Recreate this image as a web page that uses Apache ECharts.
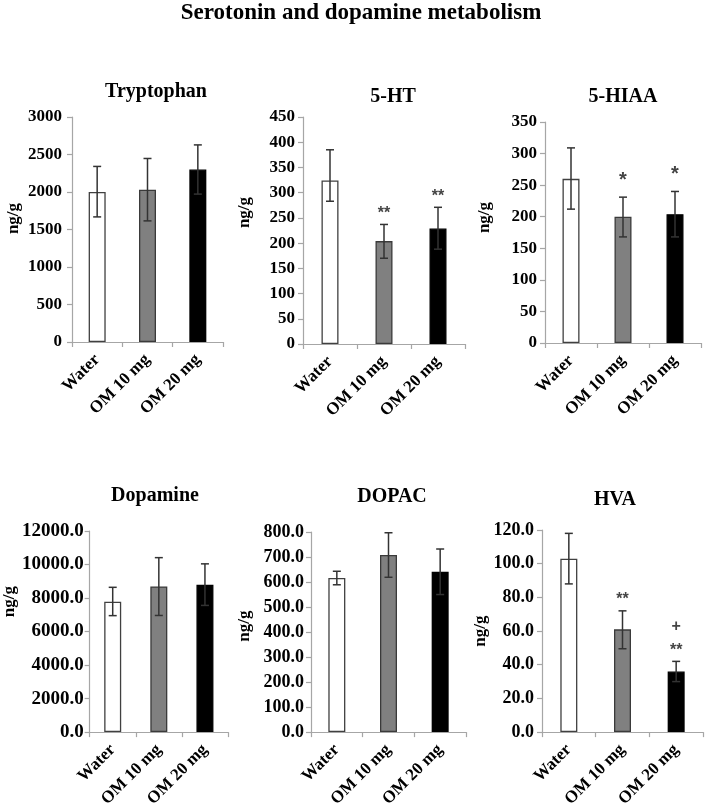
<!DOCTYPE html>
<html>
<head>
<meta charset="utf-8">
<script src="https://cdn.jsdelivr.net/npm/echarts@6/dist/echarts.min.js"></script>
<style>
html,body{margin:0;padding:0;background:#fff;}
#chart{width:708px;height:810px;}
</style>
</head>
<body>
<div id="chart"></div>
<script>
// ---------- data ----------
const mainTitle = 'Serotonin and dopamine metabolism';
const categories = ['Water', 'OM 10 mg', 'OM 20 mg'];
const panelNames = ['Tryptophan', '5-HT', '5-HIAA', 'Dopamine', 'DOPAC', 'HVA'];
const yAxisTitle = 'ng/g';

const tryptophanMean = [2000, 2030, 2300];
const tryptophanLow  = [1668, 1615, 1972];
const tryptophanHigh = [2341, 2447, 2628];
const tryptophanSig  = ['', '', ''];

const ht5Mean = [324, 204, 229];
const ht5Low  = [283, 170, 188];
const ht5High = [385, 237, 271];
const ht5Sig  = ['', '**', '**'];

const hiaaMean = [260, 200, 204];
const hiaaLow  = [212, 168, 168];
const hiaaHigh = [309, 231, 240];
const hiaaSig  = ['', '*', '*'];

const dopamineMean = [7780, 8690, 8800];
const dopamineLow  = [6950, 6960, 7560];
const dopamineHigh = [8640, 10410, 10040];
const dopamineSig  = ['', '', ''];

const dopacMean = [616, 708, 641];
const dopacLow  = [589, 619, 550];
const dopacHigh = [643, 797, 732];
const dopacSig  = ['', '', ''];

const hvaMean = [103, 61, 36];
const hvaLow  = [88, 49.5, 30];
const hvaHigh = [118, 72, 42];
const hvaSig  = ['', '**', '+\n**'];

const yMax      = [3000, 450, 350, 12000, 800, 120];
const yStep     = [500, 50, 50, 2000, 100, 20];
const yDecimals = [0, 0, 0, 1, 1, 1];

// ---------- layout / style ----------
const panels = [
  {mean: tryptophanMean, low: tryptophanLow, high: tryptophanHigh, sig: tryptophanSig},
  {mean: ht5Mean, low: ht5Low, high: ht5High, sig: ht5Sig},
  {mean: hiaaMean, low: hiaaLow, high: hiaaHigh, sig: hiaaSig},
  {mean: dopamineMean, low: dopamineLow, high: dopamineHigh, sig: dopamineSig},
  {mean: dopacMean, low: dopacLow, high: dopacHigh, sig: dopacSig},
  {mean: hvaMean, low: hvaLow, high: hvaHigh, sig: hvaSig}
];
const grids = [
  {left: 72,  top: 117, width: 151, height: 225},
  {left: 303, top: 117, width: 162, height: 227},
  {left: 545, top: 122, width: 156, height: 221},
  {left: 82,  top: 531, width: 146, height: 204},
  {left: 311, top: 532, width: 155, height: 202},
  {left: 542, top: 530, width: 161, height: 204}
];
const titlePos = [[151, 77], [388, 82], [618, 82], [150, 481], [387, 482], [610, 485]];
const nameGaps = [50, 50, 52, 64, 58, 50];
const namePad  = [22, 36, 30, 60, 12, 0];
const tickFont = [17, 17, 17, 19, 18, 18];
const tickMargin = [10, 8, 8, 6, 7, 8];
const sigFont  = [16, 16, 20, 16, 16, 16];
const sigDy    = [0, 1, -5, 0, 0, 1];
const barColors = ['#ffffff', '#808080', '#000000'];
const barBorders = ['#404040', '#3a3a3a', '#000000'];
const serif = 'Liberation Serif';
const axisGray = '#a6a6a6';

const option = {
  animation: false,
  backgroundColor: '#ffffff',
  title: [{
    text: mainTitle, left: 356, top: -3, textAlign: 'center',
    textStyle: {fontFamily: serif, fontWeight: 'bold', fontSize: 23, color: '#000'}
  }].concat(panelNames.map((n, i) => ({
    text: n, left: titlePos[i][0], top: titlePos[i][1], textAlign: 'center',
    textStyle: {fontFamily: serif, fontWeight: 'bold', fontSize: 20, color: '#000'}
  }))),
  grid: grids.map(g => Object.assign({containLabel: false}, g)),
  xAxis: grids.map((g, i) => ({
    type: 'category', gridIndex: i, data: categories,
    axisLine: {lineStyle: {color: axisGray, width: 1.2}},
    axisTick: {show: true, alignWithLabel: false, length: 5, lineStyle: {color: axisGray, width: 1.2}},
    axisLabel: {interval: 0, rotate: 45, margin: 15, color: '#000',
      fontFamily: serif, fontWeight: 'bold', fontSize: 17},
    splitLine: {show: false}
  })),
  yAxis: grids.map((g, i) => ({
    type: 'value', gridIndex: i, min: 0, max: yMax[i], interval: yStep[i],
    name: yAxisTitle, nameLocation: 'middle', nameGap: nameGaps[i], nameRotate: 90,
    nameTextStyle: {fontFamily: serif, fontWeight: 'bold', fontSize: 17, color: '#000',
      padding: [0, 0, 0, namePad[i]]},
    axisLine: {show: true, lineStyle: {color: axisGray, width: 1.2}},
    axisTick: {show: true, length: 5, lineStyle: {color: axisGray, width: 1.2}},
    axisLabel: {margin: tickMargin[i], color: '#000', fontFamily: serif, fontWeight: 'bold', fontSize: tickFont[i],
      formatter: v => v.toFixed(yDecimals[i])},
    splitLine: {show: false}
  })),
  series: []
};

panels.forEach((p, i) => {
  option.series.push({
    type: 'bar', xAxisIndex: i, yAxisIndex: i, barWidth: 17,
    data: p.mean.map((v, k) => ({value: v, itemStyle: {color: barColors[k], borderColor: barBorders[k], borderWidth: 1.3}})),
    z: 2
  });
  option.series.push({
    type: 'custom', xAxisIndex: i, yAxisIndex: i, z: 5,
    data: p.mean.map((v, k) => [k, p.low[k], p.high[k]]),
    renderItem: (params, api) => {
      const top = api.coord([api.value(0), api.value(2)]);
      const bot = api.coord([api.value(0), api.value(1)]);
      const hw = 4;
      const st = {stroke: '#333333', lineWidth: 1.5};
      return {type: 'group', children: [
        {type: 'line', shape: {x1: top[0], y1: top[1], x2: bot[0], y2: bot[1]}, style: st},
        {type: 'line', shape: {x1: top[0] - hw, y1: top[1], x2: top[0] + hw, y2: top[1]}, style: st},
        {type: 'line', shape: {x1: bot[0] - hw, y1: bot[1], x2: bot[0] + hw, y2: bot[1]}, style: st}
      ]};
    }
  });
  option.series.push({
    type: 'custom', xAxisIndex: i, yAxisIndex: i, z: 6,
    data: p.mean.map((v, k) => [k, p.high[k]]),
    renderItem: (params, api) => {
      const pt = api.coord([api.value(0), api.value(1)]);
      const txt = p.sig[params.dataIndex];
      if (!txt) return null;
      return {type: 'text', x: pt[0], y: pt[1] + sigDy[i], style: {
        text: txt, align: 'center', verticalAlign: 'bottom',
        font: 'bold ' + sigFont[i] + 'px "Liberation Sans", Arial, sans-serif', fill: '#444', lineHeight: 24
      }};
    }
  });
});

const chart = echarts.init(document.getElementById('chart'), null, {renderer: 'canvas'});
chart.setOption(option);
</script>
</body>
</html>
